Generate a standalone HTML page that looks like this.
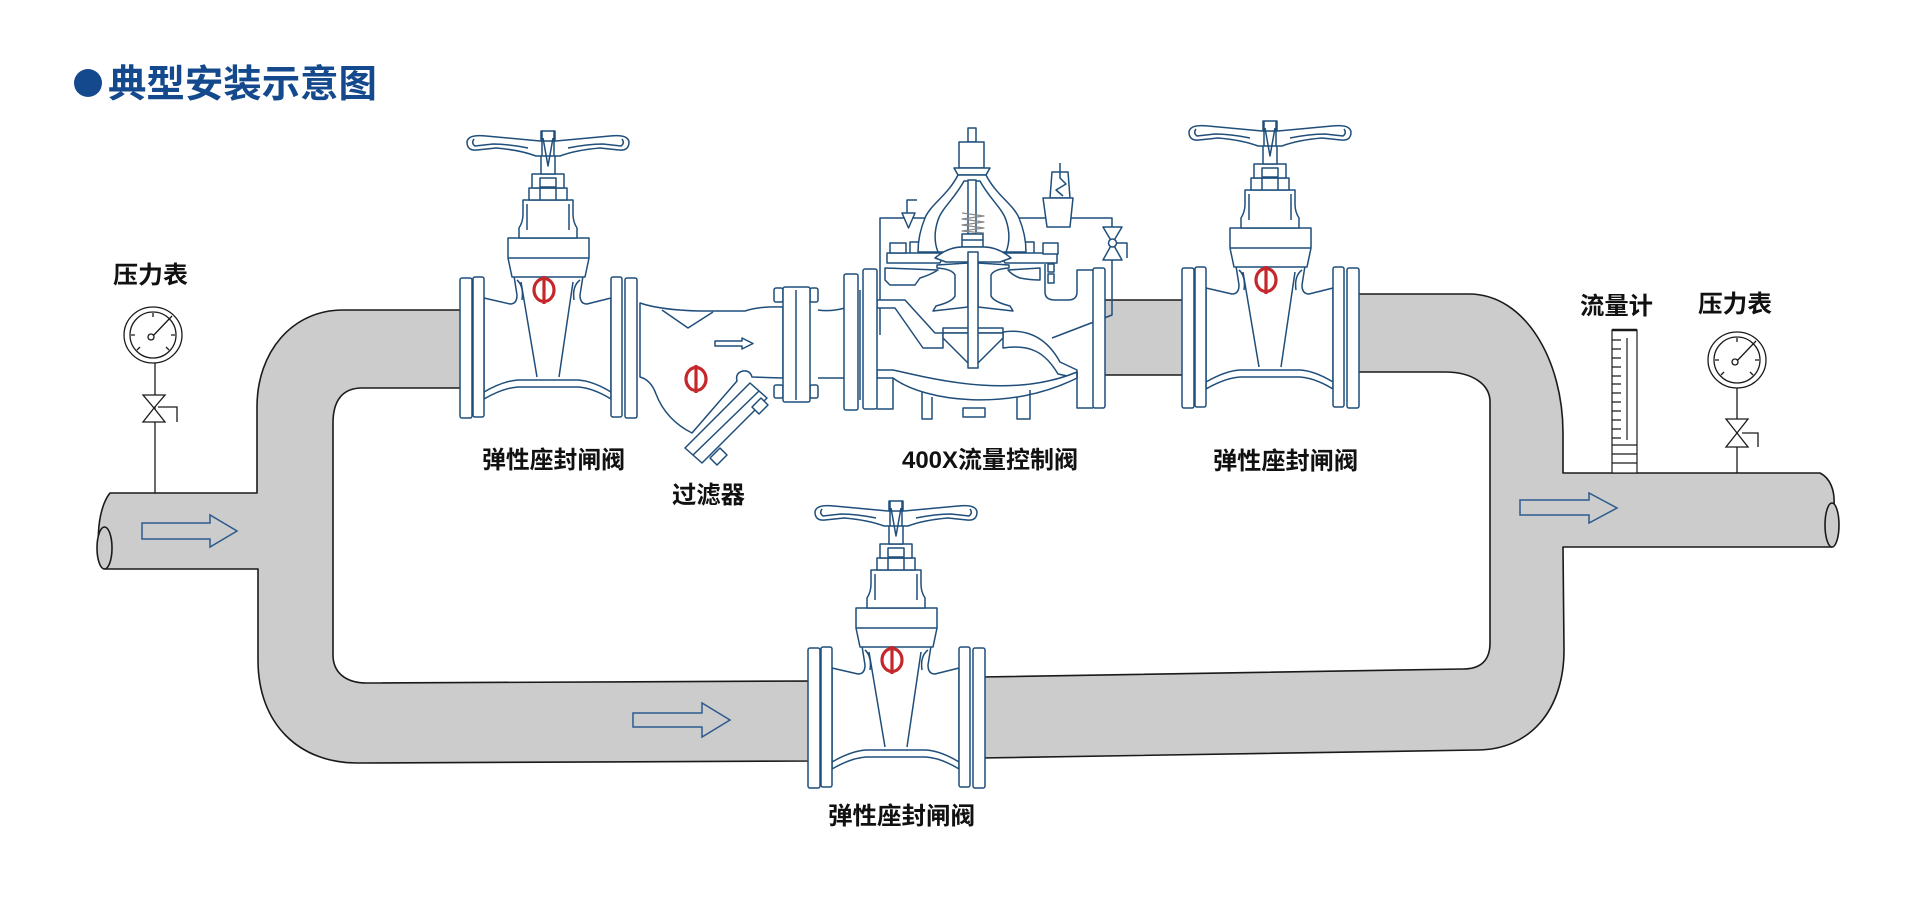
<!DOCTYPE html>
<html><head><meta charset="utf-8"><style>
html,body{margin:0;padding:0;background:#fff;}
svg{display:block;}
.lbl{font-family:"Liberation Sans","Noto Sans CJK SC",sans-serif;font-weight:700;font-size:24px;fill:#111;}
</style></head><body>
<svg width="1908" height="904" viewBox="0 0 1908 904" xmlns="http://www.w3.org/2000/svg">
<defs>
<g id="gv" fill="#fff" stroke="#1f4e7a" stroke-width="1.5" stroke-linejoin="round">
 <path d="M-64,20 L-38,26 Q-31,26 -31,17 L-34,-2 L35,-2 L32,17 Q32,26 39,26 L63,20 L63,121 Q45,110 30,109 L-30,109 Q-45,110 -64,121 Z"/>
 <path fill="none" d="M-64,114 Q-45,103 -30,102 L30,102 Q45,103 63,114"/>
 <path fill="none" d="M-27,4 L-11,99 M25,4 L11,99"/>
 <path fill="none" d="M-31,2 Q-24,8 -26,22 M32,2 Q24,8 26,22"/>
 <path d="M-40,-40 L41,-40 L41,-20 L37,-1 L-36,-1 L-40,-20 Z"/>
 <path fill="none" d="M-40,-20 L41,-20"/>
 <path d="M-29,-40 L-29,-50 Q-25,-56 -25,-64 L-25,-78 L25,-78 L25,-64 Q25,-56 29,-50 L29,-40 Z"/>
 <path fill="none" d="M-21,-74 L-21,-48 M21,-74 L21,-48"/>
 <rect x="-19" y="-90" width="38" height="12"/>
 <rect x="-16" y="-104" width="32" height="14"/>
 <rect x="-8" y="-100" width="16" height="9"/>
 <path fill="none" d="M-8,-90 L-8,-78 M8,-90 L8,-78"/>
 <rect x="-7" y="-147" width="14" height="43"/>
 <path d="M-8,-137 L-62,-142 Q-80,-144 -81,-136 Q-81,-127 -71,-128 L-52,-130 Q-28,-128 -12,-122 L12,-122 Q28,-128 52,-130 L71,-128 Q81,-127 81,-136 Q80,-144 62,-142 L8,-137 Z"/>
 <path fill="none" d="M-74,-139 Q-77,-135 -73,-132 L-55,-134 Q-40,-134 -20,-130 M74,-139 Q77,-135 73,-132 L55,-134 Q40,-134 20,-130"/>
 <path fill="none" d="M-6,-147 L-6,-122 M6,-147 L6,-122 M-5,-140 L0,-112 L5,-140"/>
 <rect x="-88" y="0" width="12" height="140" rx="2"/>
 <rect x="-75" y="-1" width="11" height="140" rx="2"/>
 <rect x="63" y="-1" width="11" height="140" rx="2"/>
 <rect x="77" y="0" width="12" height="140" rx="2"/>
 <g stroke="#c4282b" stroke-width="3.2" fill="none">
  <ellipse cx="-4" cy="12" rx="10" ry="11.5"/>
  <path d="M-4,-2 L-4,26"/>
 </g>
</g>
</defs>

<!-- Title -->
<circle cx="88" cy="83" r="14" fill="#15498d"/>
<text x="108" y="97" font-family="'Liberation Sans','Noto Sans CJK SC',sans-serif" font-weight="700" font-size="38" fill="#15498d" textLength="269" lengthAdjust="spacingAndGlyphs">典型安装示意图</text>

<!-- Pipes -->
<g fill="#cccccc" stroke="#1a1a1a" stroke-width="1.6" stroke-linejoin="round">
 <path d="M110,493 L257,493 L257,407 C257,352 292,310 343,310 L462,310 L462,388 L362,388 C343,388 333,400 333,423 L333,655 C333,672 345,683 367,683 L812,681 L812,761 L357,763 C300,763 258,725 258,660 L258,569 L105,569 C95,555 96,510 110,493 Z"/>
 <ellipse cx="104.5" cy="548" rx="7.5" ry="21"/>
 <path d="M981,677 L1463,669 C1481,669 1490,660 1490,643 L1490,402 C1490,384 1472,372 1445,372 L1355,372 L1355,294 L1469,294 C1525,294 1563,360 1563,433 L1563,473 L1820,473 C1830,478 1835,490 1834,505 L1832,547 L1563,547 L1564,650 C1564,710 1530,750 1477,750 L981,758 Z"/>
 <ellipse cx="1832" cy="525" rx="7" ry="22"/>
 <rect x="1102" y="300" width="84" height="75"/>
</g>

<!-- Flow arrows -->
<g fill="none" stroke="#2b5b8e" stroke-width="1.5" stroke-linejoin="miter">
 <path d="M142,523 L210,523 L210,515 L237,531 L210,547 L210,539 L142,539 Z"/>
 <path d="M633,713 L702,713 L702,703 L730,720 L702,737 L702,727 L633,727 Z"/>
 <path d="M1520,500 L1589,500 L1589,493 L1617,508 L1589,523 L1589,515 L1520,515 Z"/>
</g>

<!-- Left gauge -->
<g stroke="#1a1a1a" stroke-width="1.3" fill="#fff">
 <path d="M155,363 L155,493" fill="none"/>
 <ellipse cx="153" cy="335" rx="29" ry="28"/>
 <circle cx="153" cy="335" r="23"/>
 <path fill="none" d="M131,335 L135,335 M171,335 L175,335 M153,313 L153,317 M137,350 L140,347 M169,350 L166,347 M150,339 L172,316"/>
 <circle cx="151" cy="337" r="3"/>
 <path d="M143,395 L165,395 L154,408 Z M143,422 L165,422 L154,408 Z"/>
 <path fill="none" d="M158,407 L177,407 L177,422"/>
</g>

<!-- Right gauge -->
<g stroke="#1a1a1a" stroke-width="1.3" fill="#fff">
 <path d="M1737,388 L1737,473" fill="none"/>
 <ellipse cx="1737" cy="360" rx="29" ry="28"/>
 <circle cx="1737" cy="360" r="23"/>
 <path fill="none" d="M1715,360 L1719,360 M1755,360 L1759,360 M1737,338 L1737,342 M1721,375 L1724,372 M1753,375 L1750,372 M1734,364 L1756,341"/>
 <circle cx="1735" cy="362" r="3"/>
 <path d="M1726,419 L1748,419 L1737,433 Z M1726,447 L1748,447 L1737,433 Z"/>
 <path fill="none" d="M1742,433 L1758,433 L1758,447"/>
</g>

<!-- Flow meter -->
<g stroke="#1a1a1a" stroke-width="1.2" fill="none">
 <rect x="1612" y="330" width="25" height="143" fill="#fff"/>
 <path d="M1612,330 L1637,330" stroke-width="2.5"/>
 <path d="M1627,338 L1627,440"/>
 <path d="M1612,340 L1621,340 M1612,349 L1621,349 M1612,358 L1621,358 M1612,367 L1621,367 M1612,376 L1621,376 M1612,384 L1621,384 M1612,393 L1621,393 M1612,402 L1621,402 M1612,411 L1621,411 M1612,420 L1621,420 M1612,429 L1621,429 M1612,438 L1621,438"/>
 <path d="M1612,445 L1637,445 M1612,454 L1637,454 M1612,463 L1637,463"/>
</g>

<!-- Gate valves -->
<use href="#gv" x="548" y="278"/>
<use href="#gv" x="1270" y="268"/>
<use href="#gv" x="896" y="648"/>

<!-- Strainer -->
<g fill="#fff" stroke="#1f4e7a" stroke-width="1.5" stroke-linejoin="round">
 <path d="M640,303 Q660,310 700,311 L745,311 Q760,306 783,307 L783,378 L752,377 Q750,370 743,371 Q735,373 737,381 L692,433 Q666,420 656,394 Q651,380 640,377 Z"/>
 <path fill="none" d="M662,310 L688,328 L713,312"/>
 <path fill="none" d="M818,310 Q830,312 845,308 M818,378 L845,378"/>
 <polygon points="685,448 702,463 767,398 750,383"/>
 <path fill="none" d="M693,455 L759,391"/>
 <polygon points="752,407 759,414 768,405 761,398"/>
 <polygon points="710,458 717,465 727,455 720,448"/>
 <rect x="774" y="288" width="9" height="14" rx="2"/>
 <rect x="810" y="288" width="8" height="14" rx="2"/>
 <rect x="774" y="385" width="9" height="13" rx="2"/>
 <rect x="810" y="385" width="8" height="13" rx="2"/>
 <rect x="783" y="287" width="27" height="115" rx="2"/>
 <path fill="none" d="M796,290 L796,400"/>
 <path d="M715,341 L742,341 L742,338 L753,343.5 L742,349 L742,346 L715,346 Z"/>
 <g stroke="#c4282b" stroke-width="3.2" fill="none">
  <ellipse cx="696" cy="379" rx="10" ry="11.5"/>
  <path d="M696,365 L696,393"/>
 </g>
</g>

<!-- 400X flow control valve -->
<g fill="#fff" stroke="#1f4e7a" stroke-width="1.5" stroke-linejoin="round">
 <path fill="none" d="M880,335 L880,218 L928,218"/>
 <path fill="none" d="M1018,218 L1112,218 L1112,228 M1112,260 L1112,315 L1052,338"/>
 <path fill="none" d="M907,213 L907,200 L917,200"/>
 <path d="M902,213 L915,213 L908.5,228 Z"/>
 <path d="M1050,198 L1052,172 L1068,172 L1070,198 Z"/>
 <path fill="none" d="M1060,163 L1060,178 L1066,184 L1056,190 L1063,196"/>
 <path d="M1043,198 L1073,198 L1070,227 L1047,227 Z"/>
 <path d="M1103,227 L1122,227 L1112.5,243 Z M1103,260 L1122,260 L1112.5,243 Z"/>
 <circle cx="1112.5" cy="243" r="4"/>
 <path fill="none" d="M1116,243 L1127,243 L1127,258"/>
 <rect x="968" y="128" width="8" height="14"/>
 <rect x="959" y="142" width="25" height="26"/>
 <path d="M954,168 L990,168 L986,175 L958,175 Z"/>
 <path d="M958,175 C948,195 930,205 925,218 C920,230 918,242 918,252 L1026,252 C1026,242 1024,230 1019,218 C1014,205 996,195 986,175 Z"/>
 <path d="M964,181 C955,198 942,208 938,220 C934,232 934,242 938,252 L1006,252 C1010,242 1010,232 1006,220 C1002,208 989,198 980,181 Z"/>
 <path fill="none" d="M918,242 L910,242 L910,253 M1026,242 L1034,242 L1034,253"/>
 <rect x="968" y="180" width="8" height="54"/>
 <path fill="none" stroke="#888" stroke-width="1.2" d="M962,213 L984,216 L962,219 L984,222 L962,225 L984,228 L962,231 L984,233"/>
 <rect x="962" y="234" width="21" height="13"/>
 <path fill="none" d="M962,240 L983,240"/>
 <path d="M887,253 L945,253 L940,263 L887,263 Z"/>
 <path d="M1000,253 L1057,253 L1057,263 L1005,263 Z"/>
 <rect x="890" y="243" width="16" height="10"/>
 <rect x="1043" y="243" width="15" height="11"/>
 <rect x="1048" y="264" width="6" height="8"/>
 <rect x="1048" y="274" width="6" height="9"/>
 <path d="M885,268 L938,270 Q930,275 920,278 L915,285 L890,285 L885,280 Z"/>
 <path d="M1008,270 L1040,268 L1040,280 Q1030,280 1020,278 Q1012,275 1008,270 Z"/>
 <path fill="none" d="M1045,264 L1045,292 Q1045,300 1055,300 L1068,300 Q1077,300 1077,292 L1077,270 L1093,270"/>
 <path d="M935,258 Q948,247 962,247 L984,247 Q998,247 1011,258 L1000,262 L946,262 Z"/>
 <path d="M937,265 L968,263 L968,307 L933,311 L936,306 Q952,302 955,296 L955,275 Q952,269 937,268 Z"/>
 <path d="M1009,265 L978,263 L978,307 L1013,311 L1010,306 Q994,302 991,296 L991,275 Q994,269 1009,268 Z"/>
 <path d="M877,300 L905,300 L935,333 L943,333 L943,348 L923,348 L895,308 L877,308 Z"/>
 <path d="M1003,332 C1030,328 1048,340 1060,362 L1077,370 L1077,378 L1058,374 C1045,352 1030,344 1003,348 Z"/>
 <rect x="943" y="328" width="60" height="5"/>
 <path d="M943,333 L1003,333 L1003,338 L978,363 L968,363 L943,338 Z"/>
 <rect x="968" y="252" width="10" height="116"/>
 <path d="M877,378 L893,378 C925,402 1010,412 1077,378 L1077,372 C1010,400 930,378 893,370 L877,370 Z"/>
 <path fill="none" d="M922,392 L922,419 L932,419 L932,397 M1017,397 L1017,419 L1030,419 L1030,390"/>
 <rect x="963" y="408" width="22" height="9"/>
 <path fill="none" d="M893,378 L893,409 L877,409 M1077,372 L1077,408 L1093,408"/>
 <rect x="844" y="274" width="14" height="136" rx="2"/>
 <rect x="863" y="269" width="14" height="140" rx="2"/>
 <path fill="none" d="M860,290 L860,400"/>
 <rect x="1093" y="268" width="12" height="140" rx="2"/>
</g>

<!-- Labels -->
<text class="lbl" x="113" y="283" textLength="75" lengthAdjust="spacingAndGlyphs">压力表</text>
<text class="lbl" x="482" y="468" textLength="143" lengthAdjust="spacingAndGlyphs">弹性座封闸阀</text>
<text class="lbl" x="672" y="503" textLength="73" lengthAdjust="spacingAndGlyphs">过滤器</text>
<text class="lbl" x="902" y="468" textLength="176" lengthAdjust="spacingAndGlyphs">400X流量控制阀</text>
<text class="lbl" x="1213" y="469" textLength="145" lengthAdjust="spacingAndGlyphs">弹性座封闸阀</text>
<text class="lbl" x="828" y="824" textLength="147" lengthAdjust="spacingAndGlyphs">弹性座封闸阀</text>
<text class="lbl" x="1580" y="314" textLength="73" lengthAdjust="spacingAndGlyphs">流量计</text>
<text class="lbl" x="1698" y="312" textLength="74" lengthAdjust="spacingAndGlyphs">压力表</text>
</svg>
</body></html>
